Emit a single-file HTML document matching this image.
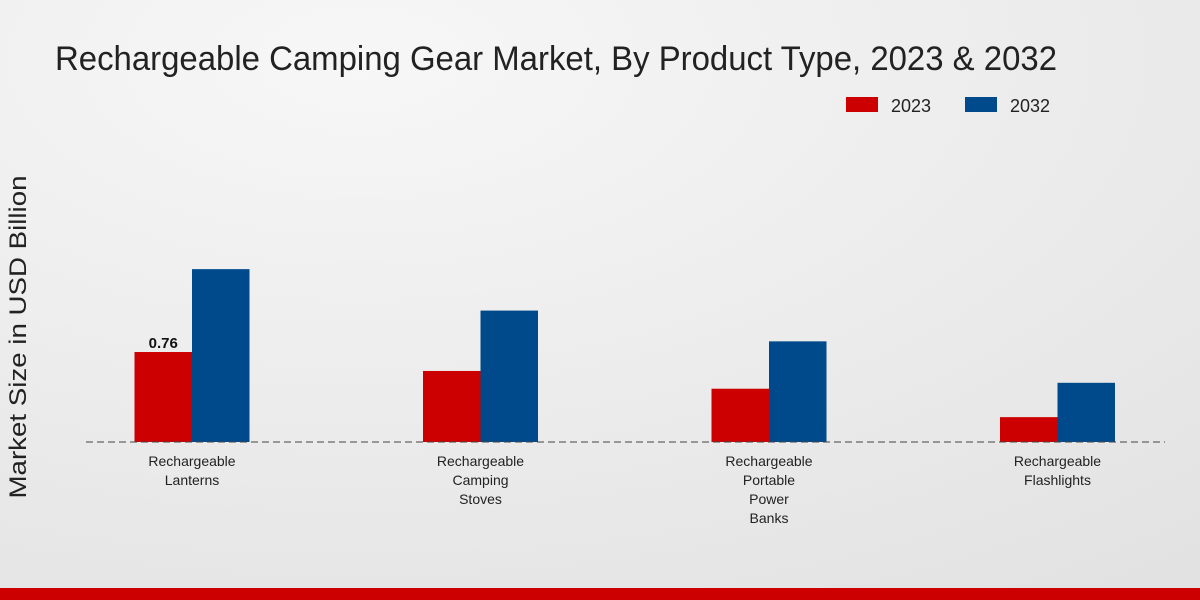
<!DOCTYPE html>
<html><head><meta charset="utf-8"><style>
html,body{margin:0;padding:0;width:1200px;height:600px;overflow:hidden}
svg{display:block;font-family:"Liberation Sans",sans-serif}
</style></head><body>
<svg id="chart" width="1200" height="600" viewBox="0 0 1200 600">
<defs><radialGradient id="bg" cx="0.3" cy="0.1" r="1.1"><stop offset="0" stop-color="#f7f7f7"/><stop offset="1" stop-color="#e2e2e2"/></radialGradient></defs>
<rect width="1200" height="600" fill="url(#bg)"/>
<text x="55" y="70" font-size="34" fill="#222" textLength="1002" lengthAdjust="spacingAndGlyphs">Rechargeable Camping Gear Market, By Product Type, 2023 &amp; 2032</text>
<text transform="translate(26,337) rotate(-90)" text-anchor="middle" font-size="24" fill="#222" textLength="323" lengthAdjust="spacingAndGlyphs">Market Size in USD Billion</text>
<g>
<rect x="846" y="97" width="32" height="15" fill="#cc0000"/>
<text x="891" y="112" font-size="18" fill="#222">2023</text>
<rect x="965" y="97" width="32" height="15" fill="#004a8c"/>
<text x="1010" y="112" font-size="18" fill="#222">2032</text>
</g>
<g id="bars"></g>
<line x1="86" y1="442" x2="1165" y2="442" stroke="#444" stroke-dasharray="7,4"/>
<g id="labels"></g>
<rect x="0" y="588" width="1200" height="12" fill="#cc0000"/>
</svg>
<script>
const categories=[["Rechargeable","Lanterns"],["Rechargeable","Camping","Stoves"],["Rechargeable","Portable","Power","Banks"],["Rechargeable","Flashlights"]];
const values2023=[0.76,0.60,0.45,0.21];
const values2032=[1.46,1.11,0.85,0.50];
const valueLabels2023=["0.76",null,null,null];
const NS="http://www.w3.org/2000/svg";
const baseY=442, pxPerUnit=118.4, x0=192, step=288.5, bw=57.5;
const y=v=>baseY-v*pxPerUnit;
const cx=i=>x0+i*step;
const bars=document.getElementById('bars'), labels=document.getElementById('labels');
function rect(x,v,fill){const r=document.createElementNS(NS,'rect');
r.setAttribute('x',x);r.setAttribute('y',y(v));r.setAttribute('width',bw);r.setAttribute('height',baseY-y(v));r.setAttribute('fill',fill);


bars.appendChild(r);}
categories.forEach((c,i)=>{
rect(cx(i)-bw,values2023[i],'#cc0000');

rect(cx(i),values2032[i],'#004a8c');

if(valueLabels2023[i]){const t=document.createElementNS(NS,'text');
t.setAttribute('x',cx(i)-bw/2);t.setAttribute('y',y(values2023[i])-4);t.setAttribute('text-anchor','middle');t.setAttribute('font-size','15');t.setAttribute('font-weight','bold');t.setAttribute('fill','#111');t.textContent=valueLabels2023[i];


labels.appendChild(t);}
const t=document.createElementNS(NS,'text');
t.setAttribute('text-anchor','middle');t.setAttribute('font-size','14');t.setAttribute('fill','#222');


c.forEach((line,j)=>{const s=document.createElementNS(NS,'tspan');s.setAttribute('x',cx(i));s.setAttribute('y',466+j*19);s.textContent=line;t.appendChild(s);});
labels.appendChild(t);
});
</script>
</body></html>
